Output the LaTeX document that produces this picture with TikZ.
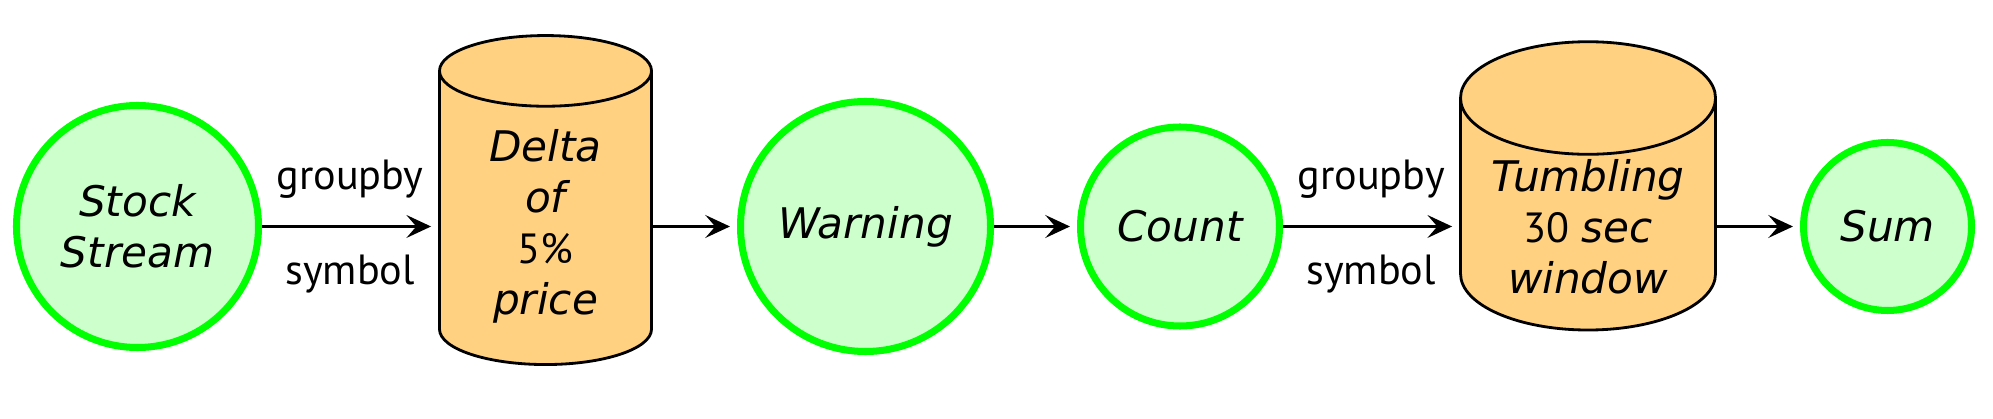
\documentclass[tikz,border=0pt]{standalone}
\usepackage{fontspec}
\setmainfont{PT Sans}
\newfontfamily\wordfont{DejaVu Sans}
\newcommand{\nm}[1]{{\wordfont\itshape #1}}
\usepackage{tikz}
\usetikzlibrary{shapes.geometric,arrows.meta}
\definecolor{tankfill}{RGB}{255,209,128}

\begin{document}
\begin{tikzpicture}[
	op/.style={circle,draw=green,fill=green!20,line width=2pt,align=center,inner sep=0pt},
	tank/.style={cylinder,shape border rotate=90,aspect=0.52,draw=black,fill=tankfill,thick,align=center,inner ysep=1pt,minimum width=2.12cm,minimum height=3.29cm},
	flow/.style={thick,-{Stealth[length=7pt,width=6.5pt,inset=2.8pt]},shorten >=2pt},
	lab/.style={font=\fontsize{12}{14.5}\selectfont}
	]
	\useasboundingbox (0,-1.925) rectangle (19.93,2.265);
	\node[op,lab,minimum size=2.42cm] (stream) at (1.375,0) {\nm{Stock}\\\nm{Stream}};
	\node[tank,lab] (delta) at (5.455,0) {\nm{Delta}\\\nm{of}\\5\%\\\nm{price}};
	\node[op,lab,minimum size=2.50cm] (warn) at (8.655,0) {\nm{Warning}};
	\node[op,lab,minimum size=1.99cm] (count) at (11.80,0) {\nm{Count}};
	\node[tank,lab,minimum width=2.55cm,minimum height=2.50cm] (window) at (15.88,0) {\nm{Tumbling}\\30 \nm{sec}\\\nm{window}};
	\node[op,lab,minimum size=1.68cm] (sum) at (18.875,0) {\nm{Sum}};
	\draw[flow] (stream) -- node[lab,above=0.15cm]{groupby} node[lab,below=0.15cm]{symbol} (delta);
	\draw[flow] (delta) -- (warn);
	\draw[flow] (warn) -- (count);
	\draw[flow] (count) -- node[lab,above=0.15cm]{groupby} node[lab,below=0.15cm]{symbol} (window);
	\draw[flow] (window) -- (sum);
\end{tikzpicture}
\end{document}
